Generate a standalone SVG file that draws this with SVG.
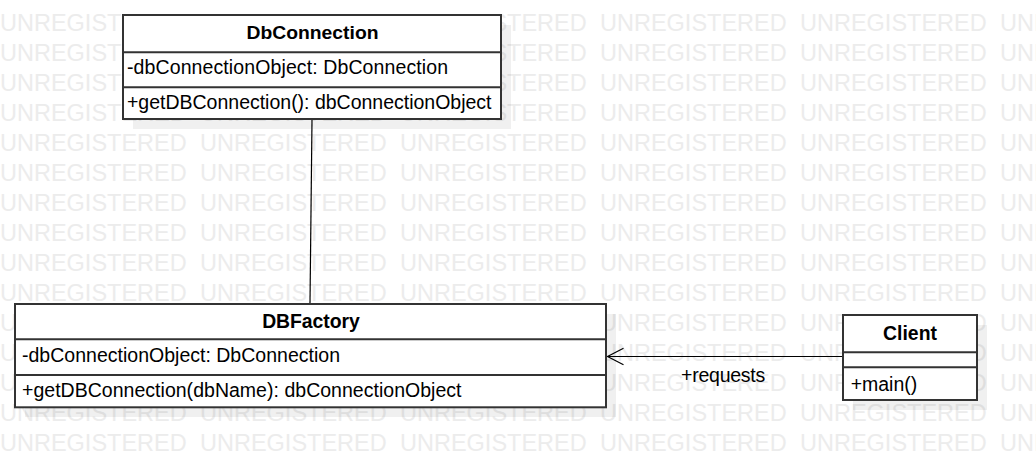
<svg xmlns="http://www.w3.org/2000/svg" width="1036" height="468" viewBox="0 0 1036 468">
  <style>
    .wm { font-family: "Liberation Sans", Arial, sans-serif; font-size: 23.5px; fill: #ececec; }
    .box { fill: #ffffff; stroke: #333333; stroke-width: 2; }
    .div { stroke: #333333; stroke-width: 2; }
    .shadow { fill: #000000; fill-opacity: 0.06; }
    .title { font-family: "Liberation Sans", Arial, sans-serif; font-weight: bold; font-size: 19.4px; fill: #000; text-anchor: middle; }
    .member { font-family: "Liberation Sans", Arial, sans-serif; font-size: 19.5px; fill: #000; }
    .edge { stroke: #000000; stroke-width: 1.2; fill: none; }
  </style>
  <defs>
    <marker id="open" markerWidth="20" markerHeight="20" refX="16" refY="9" orient="auto" markerUnits="userSpaceOnUse">
      <path d="M0,0.7 L16,9 L0,17.3" fill="none" stroke="#000" stroke-width="1.2"/>
    </marker>
    <g id="wmrow">
      <text class="wm" x="0" y="0">UNREGISTERED</text>
      <text class="wm" x="200" y="0">UNREGISTERED</text>
      <text class="wm" x="400" y="0">UNREGISTERED</text>
      <text class="wm" x="600" y="0">UNREGISTERED</text>
      <text class="wm" x="800" y="0">UNREGISTERED</text>
      <text class="wm" x="1000" y="0">UNREGISTERED</text>
    </g>
  </defs>
  <rect x="0" y="0" width="1036" height="468" fill="#ffffff"/>
  <g id="watermark">
    <use href="#wmrow" y="30.5"/>
    <use href="#wmrow" y="60.5"/>
    <use href="#wmrow" y="90.5"/>
    <use href="#wmrow" y="120.5"/>
    <use href="#wmrow" y="150.5"/>
    <use href="#wmrow" y="180.5"/>
    <use href="#wmrow" y="210.5"/>
    <use href="#wmrow" y="240.5"/>
    <use href="#wmrow" y="270.5"/>
    <use href="#wmrow" y="300.5"/>
    <use href="#wmrow" y="330.5"/>
    <use href="#wmrow" y="360.5"/>
    <use href="#wmrow" y="390.5"/>
    <use href="#wmrow" y="420.5"/>
    <use href="#wmrow" y="450.5"/>
  </g>
  <g id="shadows">
    <rect class="shadow" x="133" y="25" width="378" height="104"/>
    <rect class="shadow" x="25" y="314" width="591" height="103"/>
    <rect class="shadow" x="853" y="325" width="134" height="85"/>
  </g>
  <g id="connectors">
    <line class="edge" x1="312" y1="120" x2="310" y2="303"/>
    <line class="edge" x1="842" y1="356.5" x2="607.5" y2="356.5" marker-end="url(#open)"/>
    <text class="member" x="681" y="381.7" textLength="84.3">+requests</text>
  </g>
  <g id="DbConnection">
    <rect class="box" x="123" y="15" width="378" height="104"/>
    <line class="div" x1="123" y1="52.3" x2="501" y2="52.3"/>
    <line class="div" x1="123" y1="87.3" x2="501" y2="87.3"/>
    <text class="title" x="312.5" y="39.3" style="font-size:18px" textLength="132" lengthAdjust="spacingAndGlyphs">DbConnection</text>
    <text class="member" x="127" y="74" textLength="321">-dbConnectionObject: DbConnection</text>
    <text class="member" x="127" y="109" textLength="364.5">+getDBConnection(): dbConnectionObject</text>
  </g>
  <g id="DBFactory">
    <rect class="box" x="15" y="304" width="591" height="103.3"/>
    <line class="div" x1="15" y1="339.3" x2="606" y2="339.3"/>
    <line class="div" x1="15" y1="375" x2="606" y2="375"/>
    <text class="title" x="311" y="328.3" textLength="97.7">DBFactory</text>
    <text class="member" x="22" y="361.7" textLength="318">-dbConnectionObject: DbConnection</text>
    <text class="member" x="22" y="396.7" textLength="439.5">+getDBConnection(dbName): dbConnectionObject</text>
  </g>
  <g id="Client">
    <rect class="box" x="843" y="315" width="134" height="85"/>
    <line class="div" x1="843" y1="352.3" x2="977" y2="352.3"/>
    <line class="div" x1="843" y1="367.3" x2="977" y2="367.3"/>
    <text class="title" x="910" y="340" textLength="54">Client</text>
    <text class="member" x="850.7" y="390.7" textLength="66.5">+main()</text>
  </g>
</svg>
